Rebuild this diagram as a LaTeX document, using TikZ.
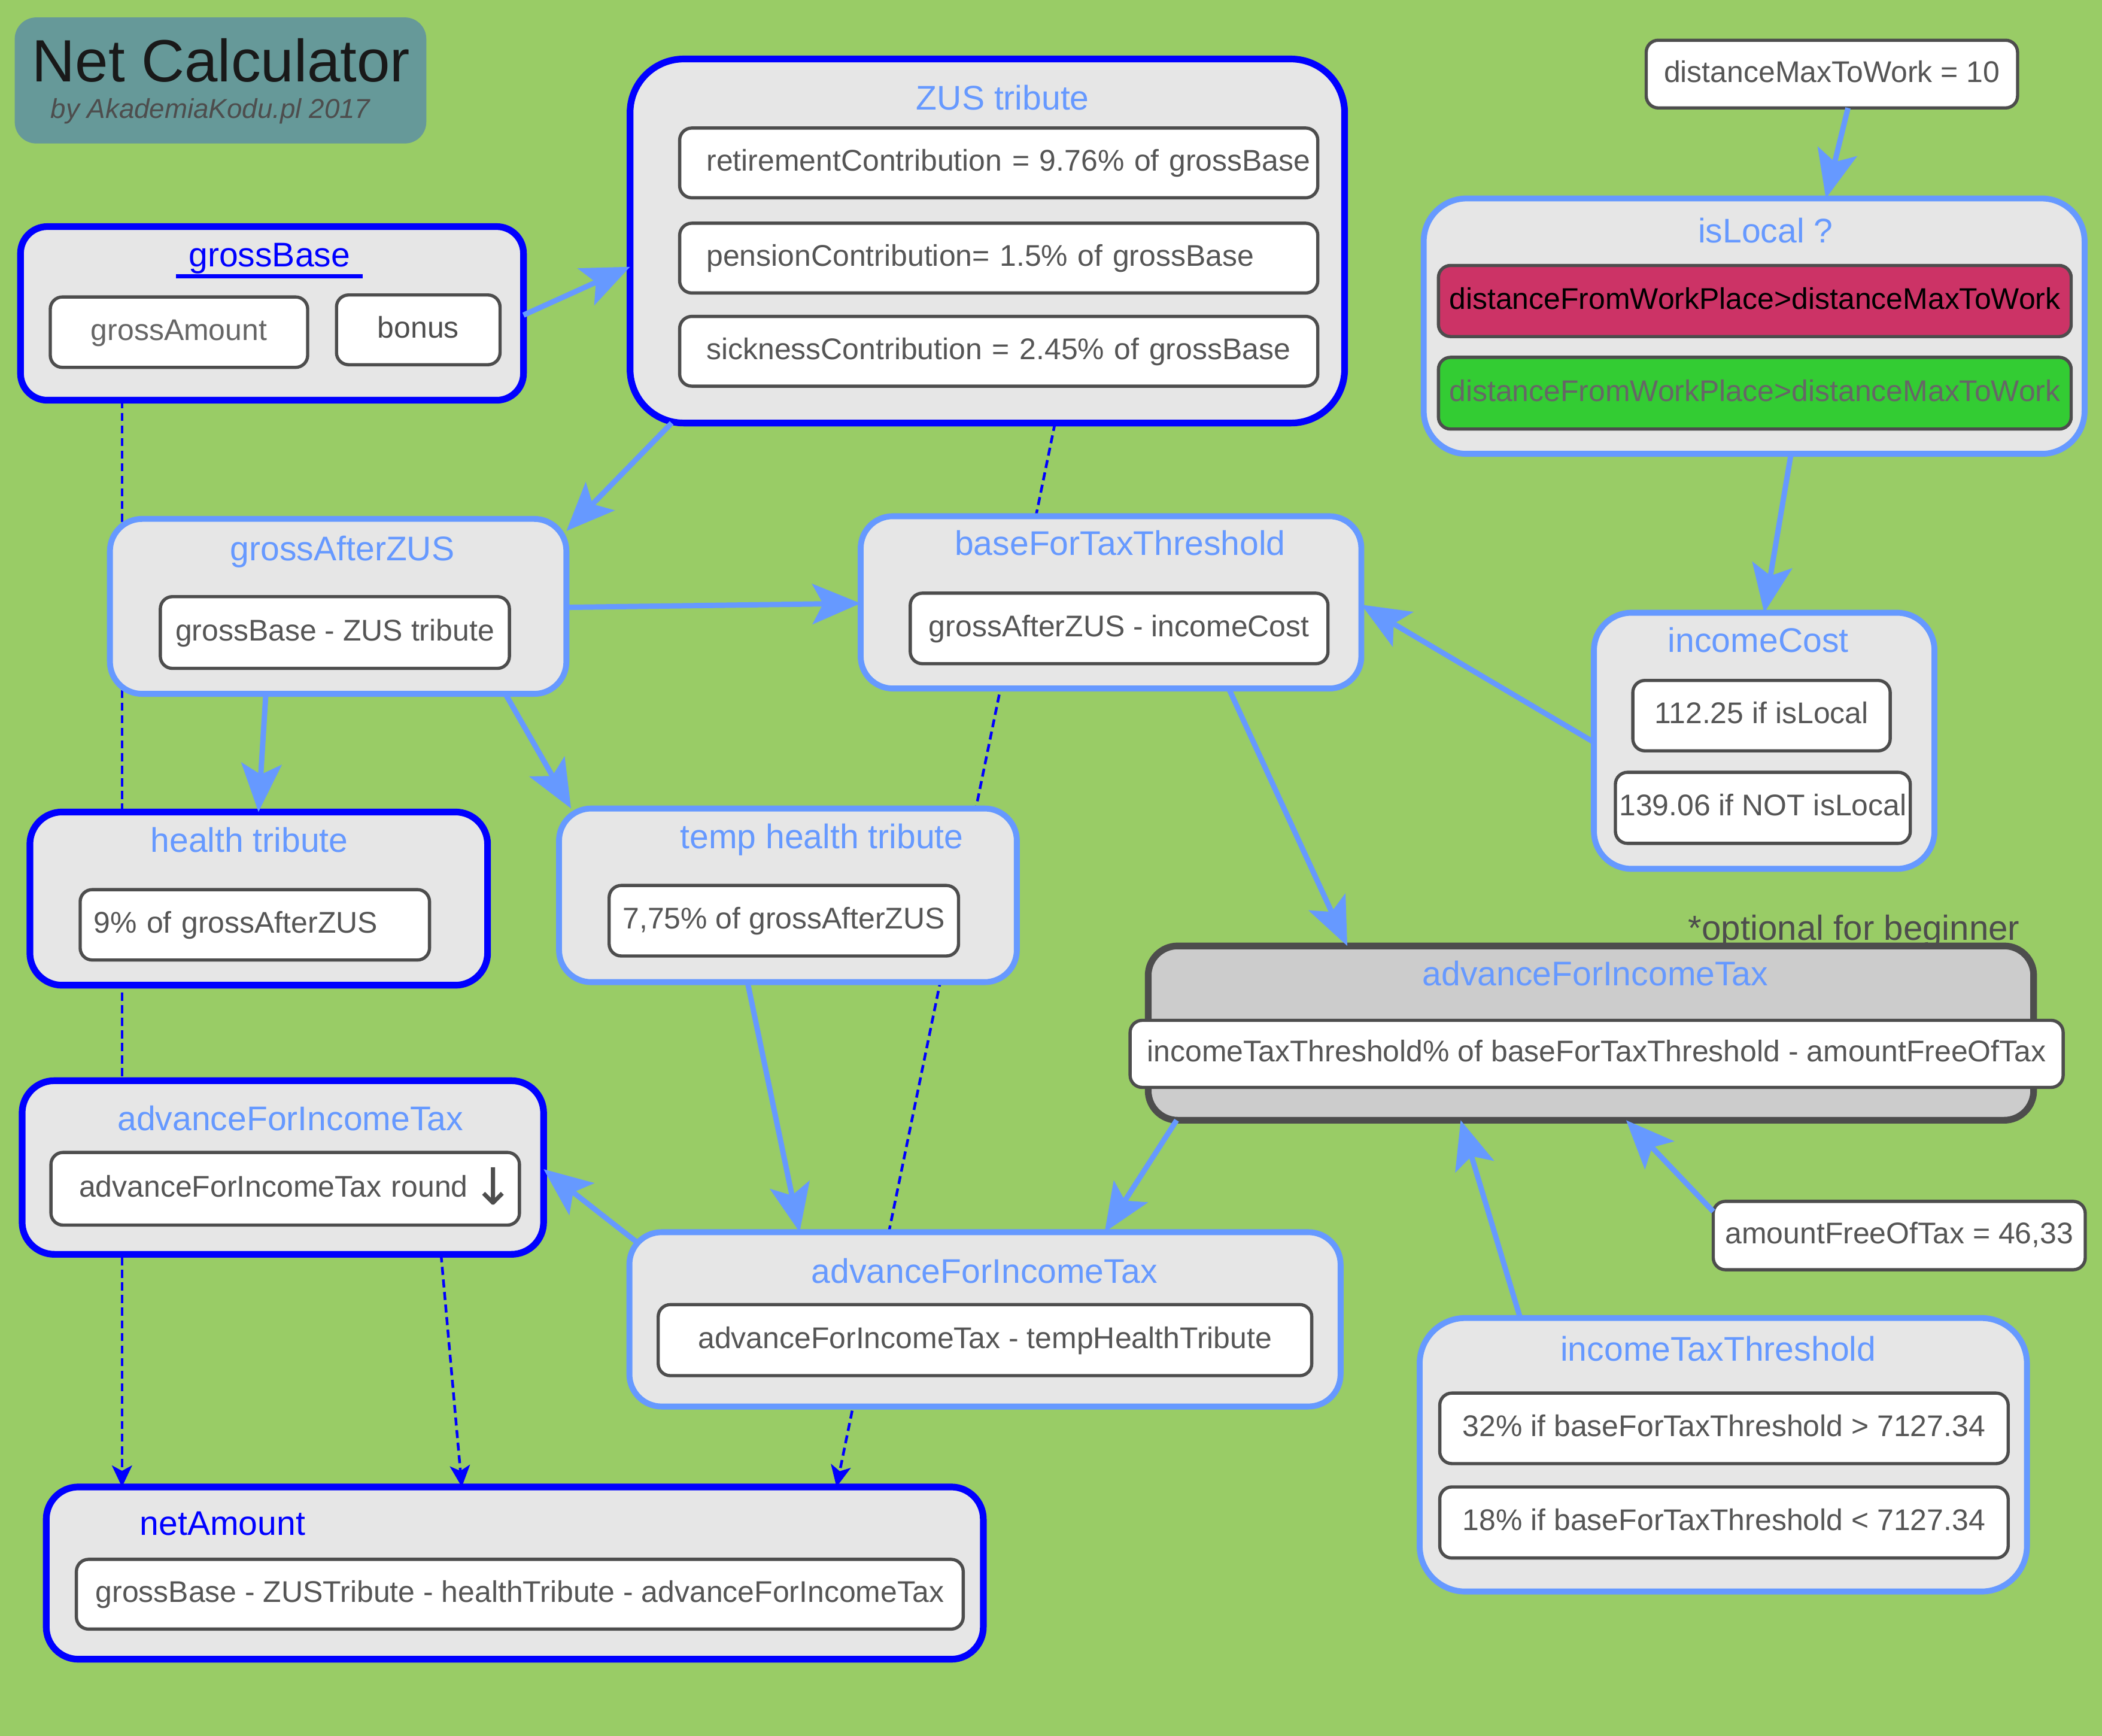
\documentclass[tikz,border=0pt]{standalone}
\usepackage{fontspec}
\setmainfont{Liberation Sans}
\newfontfamily\symfont{DejaVu Sans}
\usetikzlibrary{arrows.meta,fit,calc}
\definecolor{bggreen}{HTML}{99CC66}
\definecolor{lblue}{HTML}{6699FF}
\definecolor{dblue}{HTML}{0000FF}
\definecolor{boxfill}{HTML}{E6E6E6}
\definecolor{grayfill}{HTML}{CCCCCC}
\definecolor{dgray}{HTML}{4D4D4D}
\definecolor{tgray}{HTML}{555555}
\definecolor{titlefill}{HTML}{669999}
\definecolor{redfill}{HTML}{CC3366}
\definecolor{greenfill}{HTML}{33CC33}
\pgfdeclarelayer{bglayer}
\pgfdeclarelayer{linelayer}
\pgfsetlayers{bglayer,linelayer,main}
% inner box: [options]{name}{x1}{y1}{x2}{y2}{text}
\newcommand{\ibox}[7][]{\node[inbox,minimum width={(#5-#3)*0.5pt},minimum height={(#6-#4)*0.5pt},#1] (#2) at ({(#3+#5)/2},{(#4+#6)/2}) {#7};}
\begin{document}
\begin{tikzpicture}[x=0.5pt,y=-0.5pt,
  outerbox/.style={fill=boxfill,inner sep=0pt,outer sep=0pt},
  darkbox/.style={outerbox,draw=dblue,line width=2.5pt,rounded corners=12pt},
  lightbox/.style={outerbox,draw=lblue,line width=2.2pt,rounded corners=12pt},
  graybox/.style={fill=grayfill,inner sep=0pt,outer sep=0pt,draw=dgray,line width=2.5pt,rounded corners=11pt},
  inbox/.style={draw=dgray,line width=1.2pt,fill=white,rounded corners=4.5pt,inner sep=0pt,outer sep=0pt,text=tgray,font=\fontsize{11.15pt}{13pt}\selectfont,text height=8pt,text depth=2pt},
  lefttext/.style={text width=#1,align=left},
  ttl/.style={font=\fontsize{12.75pt}{15pt}\selectfont,text=lblue,anchor=base,inner sep=0pt},
  conn/.style={draw=lblue,line width=2pt,-{Stealth[length=18pt,width=15pt,inset=4pt]}},
  dconn/.style={draw=dblue,line width=1pt,dash pattern=on 3pt off 1.7pt,-{Stealth[length=8pt,width=7.5pt,inset=2pt]}},
]
\useasboundingbox (0,0) rectangle (1568,1294.76);
\begin{pgfonlayer}{bglayer}
\fill[bggreen] (0,0) rectangle (1568,1294.76);
\end{pgfonlayer}

% title
\node[fill=titlefill,rounded corners=8pt,inner sep=0pt,fit={(11,13)(318,107)}] (titlebox) {};
\node[font=\fontsize{22.25pt}{26pt}\selectfont,text=black!90,anchor=base,inner sep=0pt] (title) at (165,61) {Net Calculator};
\node[font=\fontsize{10.2pt}{12pt}\selectfont\itshape,text=dgray,anchor=base,inner sep=0pt] (byline) at (157,88) {by AkademiaKodu.pl 2017};

% grossBase
\node[darkbox,rounded corners=10pt,fit={(15.3,169)(390.5,298.5)}] (gb) {};
\node[ttl,text=dblue] (gbt) at (201,199) {grossBase};
\draw[dblue,line width=1.5pt] ([xshift=-4.5pt,yshift=-3.5pt]gbt.base west) -- ([xshift=4.5pt,yshift=-3.5pt]gbt.base east);
\ibox[text=black!60]{ga}{37.5}{221.5}{229.5}{274}{grossAmount}
\ibox[text=dgray]{bonus}{251}{220}{373}{272}{bonus}

% ZUS tribute
\node[darkbox,rounded corners=20pt,fit={(470,44)(1003,315.5)}] (zus) {};
\node[ttl] (zust) at (748,82) {ZUS tribute};
\ibox[lefttext=218pt]{ret}{507}{95.5}{983}{147.5}{\mbox{retirementContribution = 9.76\% of grossBase}}
\ibox[lefttext=218pt]{pen}{507}{166.5}{983}{218.5}{\mbox{pensionContribution= 1.5\% of grossBase}}
\ibox[lefttext=218pt]{sick}{507}{236}{983}{288}{\mbox{sicknessContribution = 2.45\% of grossBase}}

% distanceMaxToWork
\ibox{dmax}{1228}{30}{1505}{80.5}{distanceMaxToWork = 10}

% isLocal
\node[lightbox,rounded corners=16pt,fit={(1062,148)(1555,338.5)}] (isl) {};
\node[ttl] (islt) at (1317,181) {isLocal ?};
\ibox[fill=redfill,text=black]{red}{1073}{198}{1545}{251}{distanceFromWorkPlace>distanceMaxToWork}
\ibox[fill=greenfill,text=black!60]{grn}{1073}{266.5}{1545}{320}{distanceFromWorkPlace>distanceMaxToWork}

% grossAfterZUS
\node[lightbox,fit={(82,387)(422.5,517.5)}] (gaz) {};
\node[ttl] (gazt) at (255.4,418.3) {grossAfterZUS};
\ibox{gazi}{119.6}{445}{380}{498.5}{grossBase - ZUS tribute}

% baseForTaxThreshold
\node[lightbox,fit={(642,385)(1015.5,513.5)}] (bft) {};
\node[ttl] (bftt) at (835.5,414) {baseForTaxThreshold};
\ibox{bfti}{679}{442.4}{990.6}{495}{grossAfterZUS - incomeCost}

% incomeCost
\node[lightbox,rounded corners=14pt,fit={(1189,457)(1443,648)}] (ic) {};
\node[ttl] (ict) at (1311.6,486.6) {incomeCost};
\ibox{ic1}{1218}{507.5}{1410}{560}{112.25 if isLocal}
\ibox{ic2}{1205}{576}{1425}{629}{139.06 if NOT isLocal}

% health tribute
\node[darkbox,fit={(22.3,605.6)(363.7,734.8)}] (ht) {};
\node[ttl] (htt) at (186,635.4) {health tribute};
\ibox[lefttext=120.3pt]{hti}{59.8}{663.5}{320.4}{716}{\mbox{9\% of grossAfterZUS}}

% temp health tribute
\node[lightbox,fit={(417,603)(758.5,732.5)}] (tht) {};
\node[ttl] (thtt) at (613,632.9) {temp health tribute};
\ibox{thti}{454.4}{660.4}{715}{713}{7,75\% of grossAfterZUS}

% advanceForIncomeTax (optional)
\node[font=\fontsize{13pt}{15pt}\selectfont,text=dgray,anchor=base east,inner sep=0pt] (opt) at (1507,701) {*optional for beginner};
\node[graybox,fit={(856.5,705.5)(1517,835.5)}] (gray) {};
\node[ttl] (grayt) at (1190,735) {advanceForIncomeTax};
\ibox{grayi}{843}{761}{1539}{811}{incomeTaxThreshold\% of baseForTaxThreshold - amountFreeOfTax}

% advanceForIncomeTax (left)
\node[darkbox,fit={(16.5,806)(405.5,935.5)}] (la) {};
\node[ttl] (lat) at (216.6,843) {advanceForIncomeTax};
\ibox[lefttext=153.75pt]{lai}{38}{859.5}{387.5}{913.7}{\mbox{advanceForIncomeTax round\hspace{1.5pt}\raisebox{-3pt}{\symfont\fontsize{19pt}{19pt}\selectfont\color{dgray}↓}}}

% advanceForIncomeTax (middle)
\node[lightbox,fit={(469.5,919)(1000,1049)}] (ma) {};
\node[ttl] (mat) at (734.3,956.8) {advanceForIncomeTax};
\ibox{mai}{491}{973}{978.5}{1026}{advanceForIncomeTax - tempHealthTribute}

% amountFreeOfTax
\ibox{af}{1278}{896}{1555.5}{947}{amountFreeOfTax = 46,33}

% incomeTaxThreshold
\node[lightbox,rounded corners=17pt,fit={(1059,983)(1512,1187)}] (itt) {};
\node[ttl] (ittt) at (1281.7,1015) {incomeTaxThreshold};
\ibox{itt1}{1074}{1039}{1498}{1091.6}{32\% if baseForTaxThreshold > 7127.34}
\ibox{itt2}{1074}{1109}{1498}{1162}{18\% if baseForTaxThreshold < 7127.34}

% netAmount
\node[darkbox,fit={(34.5,1109)(733.5,1237.5)}] (net) {};
\node[ttl,text=dblue] (nett) at (166,1145) {netAmount};
\ibox{neti}{57}{1163}{718.5}{1215}{grossBase - ZUSTribute - healthTribute - advanceForIncomeTax}

% dashed connectors (behind boxes)
\begin{pgfonlayer}{linelayer}
\draw[dconn] (gb.south -| 91,0) -- (net.north -| 91,0);
\draw[dconn] (zus.south -| 787,0) -- (net.north -| 624,0);
\draw[dconn] (la.south -| 329,0) -- (net.north -| 344.5,0);
\end{pgfonlayer}

% solid connectors
\draw[conn] (gb.east |- 0,235) -- (zus.west |- 0,199);
\draw[conn] (zus.south -| 501,0) -- (gaz.east |- 0,396);
\draw[conn] (gaz.east |- 0,453) -- (bft.west |- 0,450);
\draw[conn] (gaz.south -| 198.3,0) -- (ht.north -| 192.8,0);
\draw[conn] (gaz.south -| 377,0) -- (tht.north -| 426,0);
\draw[conn] (dmax.south -| 1378.5,0) -- (isl.north -| 1362,0);
\draw[conn] (isl.south -| 1336,0) -- (ic.north -| 1316,0);
\draw[conn] (ic.west |- 0,553.6) -- (bft.east |- 0,451);
\draw[conn] (bft.south -| 916.6,0) -- (gray.north -| 1005,0);
\draw[conn] (gray.south -| 877.7,0) -- (ma.north -| 824,0);
\draw[conn] (tht.south -| 557.6,0) -- (ma.north -| 596.5,0);
\draw[conn] ($(ma.north west)+(5,7)$) -- (la.east |- 0,872);
\draw[conn] (af.west |- 0,903.6) -- (gray.south -| 1213,0);
\draw[conn] (itt.north -| 1134,0) -- (gray.south -| 1089.6,0);
\end{tikzpicture}
\end{document}
